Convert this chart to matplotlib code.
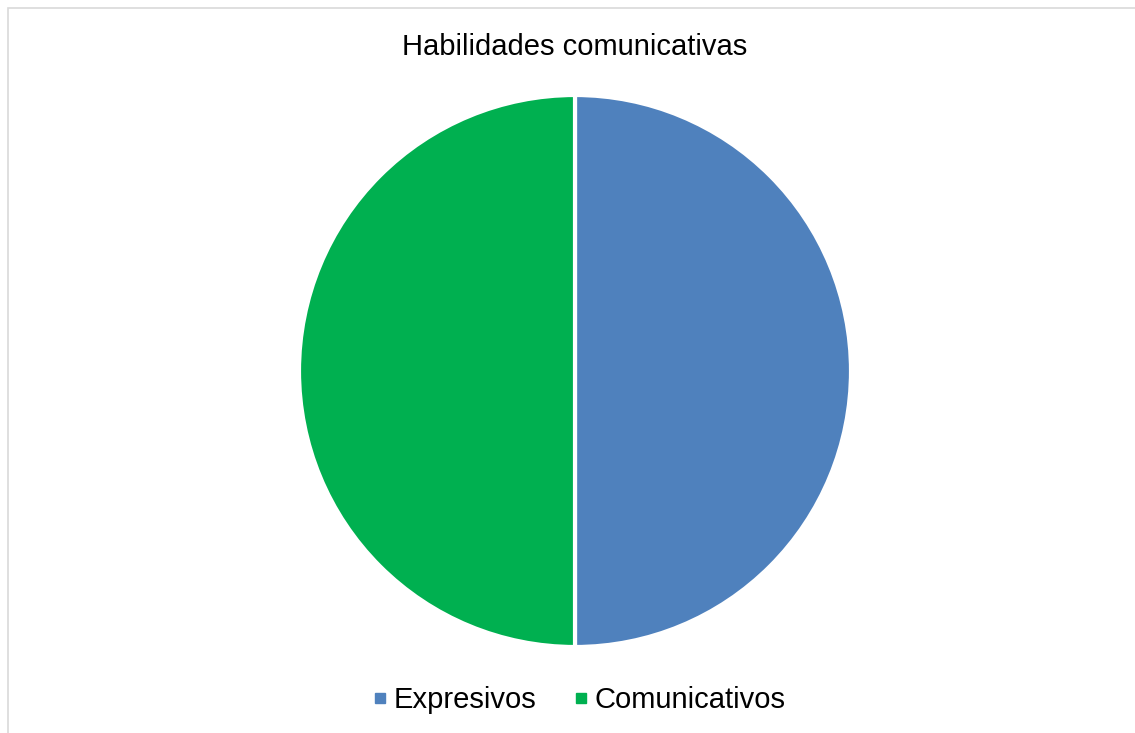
import matplotlib
matplotlib.use("Agg")
import matplotlib.pyplot as plt
from matplotlib.patches import Rectangle
from matplotlib.lines import Line2D

title = "Habilidades comunicativas"
categories = ["Expresivos", "Comunicativos"]
values = [50, 50]
colors = ["#4F81BD", "#00B050"]

W, H = 1135, 733
fig = plt.figure(figsize=(W / 100, H / 100), dpi=100)
plt.rcParams['font.family'] = ['Liberation Sans', 'DejaVu Sans']

# border
fig.patches.append(Rectangle((7.5 / W, -0.1), 1.2, 1.1 - 8.5 / H + 0.0,
                             transform=fig.transFigure, fill=False,
                             edgecolor="#D9D9D9", linewidth=1.2))

cx, cy, r = 575, 371, 276
ax = fig.add_axes([(cx - r) / W, (H - cy - r) / H, 2 * r / W, 2 * r / H])
ax.pie(values, colors=colors, startangle=90, counterclock=False, radius=1,
       wedgeprops=dict(edgecolor="white", linewidth=3))
ax.set_xlim(-1, 1)
ax.set_ylim(-1, 1)
ax.set_aspect("equal")
ax.axis("off")

fig.text(575 / W, 1 - 47 / H, title, ha="center", va="center", fontsize=21, color="#000000")

handles = [Line2D([], [], marker="s", linestyle="none", markersize=7.5,
                  markerfacecolor=c, markeredgecolor=c) for c in colors]
fig.legend(handles, categories, loc="center", bbox_to_anchor=(580 / W, 1 - 700 / H),
           ncol=2, frameon=False, fontsize=21, handlelength=0.35, handletextpad=0.3,
           columnspacing=1.35, borderpad=0, borderaxespad=0)

fig.savefig("out.png", dpi=100)
